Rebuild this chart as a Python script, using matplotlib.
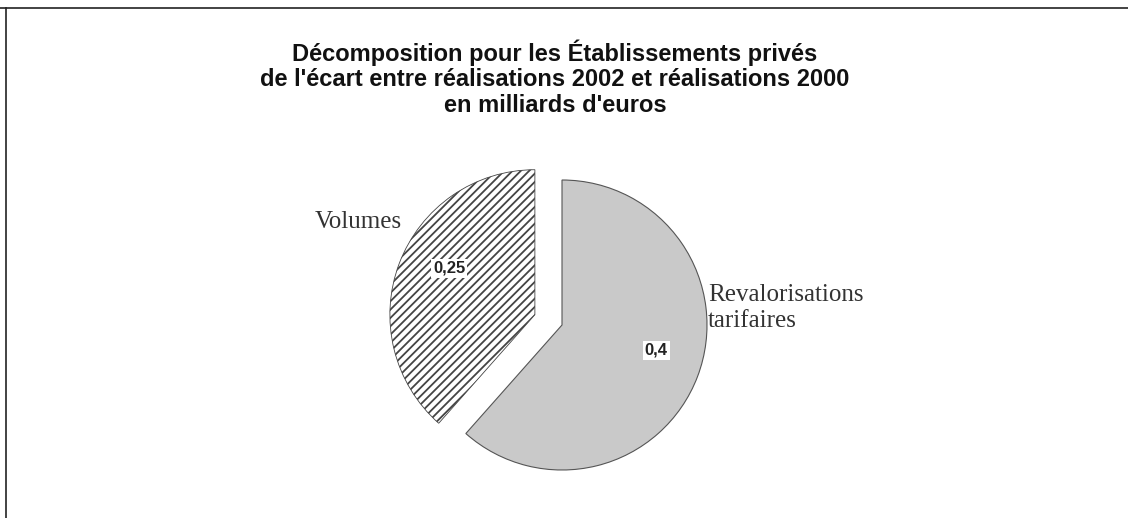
import matplotlib
matplotlib.use('Agg')
import matplotlib.pyplot as plt
from matplotlib.lines import Line2D

# ecart 2002/2000 pour les etablissements prives (milliards d'euros)
labels = ['Revalorisations\ntarifaires', 'Volumes']
values = [0.4, 0.25]
value_text = ['0,4', '0,25']

W, H = 1128, 518
fig = plt.figure(figsize=(W / 100, H / 100), dpi=100)
fig.patch.set_facecolor('white')
plt.rcParams['hatch.color'] = '#333333'
plt.rcParams['hatch.linewidth'] = 1.3

# axes over the whole figure, pie of radius 1 centred at pixel (562, 325)
cx, cy, rpx = 562, 325, 145
ax = fig.add_axes([0, 0, 1, 1])

wedges, _ = ax.pie(values, startangle=90, counterclock=False, radius=1,
                   explode=[0, 0.2], center=(0, 0),
                   colors=['#c9c9c9', 'white'],
                   wedgeprops=dict(edgecolor='#555555', linewidth=0.8))
wedges[1].set_hatch('////')
wedges[1].set_edgecolor('#444444')
wedges[1].set_linewidth(0.6)

# pie() resets the limits, so set them afterwards
ax.set_xlim((0 - cx) / rpx, (W - cx) / rpx)
ax.set_ylim((cy - H) / rpx, (cy - 0) / rpx)
ax.set_aspect('equal')
ax.axis('off')

def px(x, y):
    return x / W, 1 - y / H

# titre
fig.text(*px(555, 78), "Décomposition pour les Établissements privés\n"
         "de l'écart entre réalisations 2002 et réalisations 2000\n"
         "en milliards d'euros",
         ha='center', va='center', fontsize=17, fontweight='bold',
         family='Liberation Sans', linespacing=1.15, color='#111111')

# libelles des secteurs
fig.text(*px(358, 222), labels[1], ha='center', va='center',
         family='Liberation Serif', fontsize=18, color='#333333')
fig.text(*px(708, 308), labels[0], ha='left', va='center',
         family='Liberation Serif', fontsize=18, color='#333333',
         linespacing=1.25)

# valeurs
box = dict(boxstyle='square,pad=0.12', facecolor='white', edgecolor='none')
fig.text(*px(449, 268), value_text[1], ha='center', va='center',
         family='Liberation Sans', fontweight='bold', fontsize=12,
         color='#222222', bbox=box)
fig.text(*px(656, 350), value_text[0], ha='center', va='center',
         family='Liberation Sans', fontweight='bold', fontsize=12,
         color='#222222', bbox=box)

# cadre (haut et gauche)
fig.add_artist(Line2D([0, 1], [1 - 7.5 / H, 1 - 7.5 / H],
                      transform=fig.transFigure, color='#222222', lw=1.2))
fig.add_artist(Line2D([5.5 / W, 5.5 / W], [0, 1 - 7.5 / H],
                      transform=fig.transFigure, color='#222222', lw=1.2))

fig.savefig('out.png', dpi=100, facecolor='white')
